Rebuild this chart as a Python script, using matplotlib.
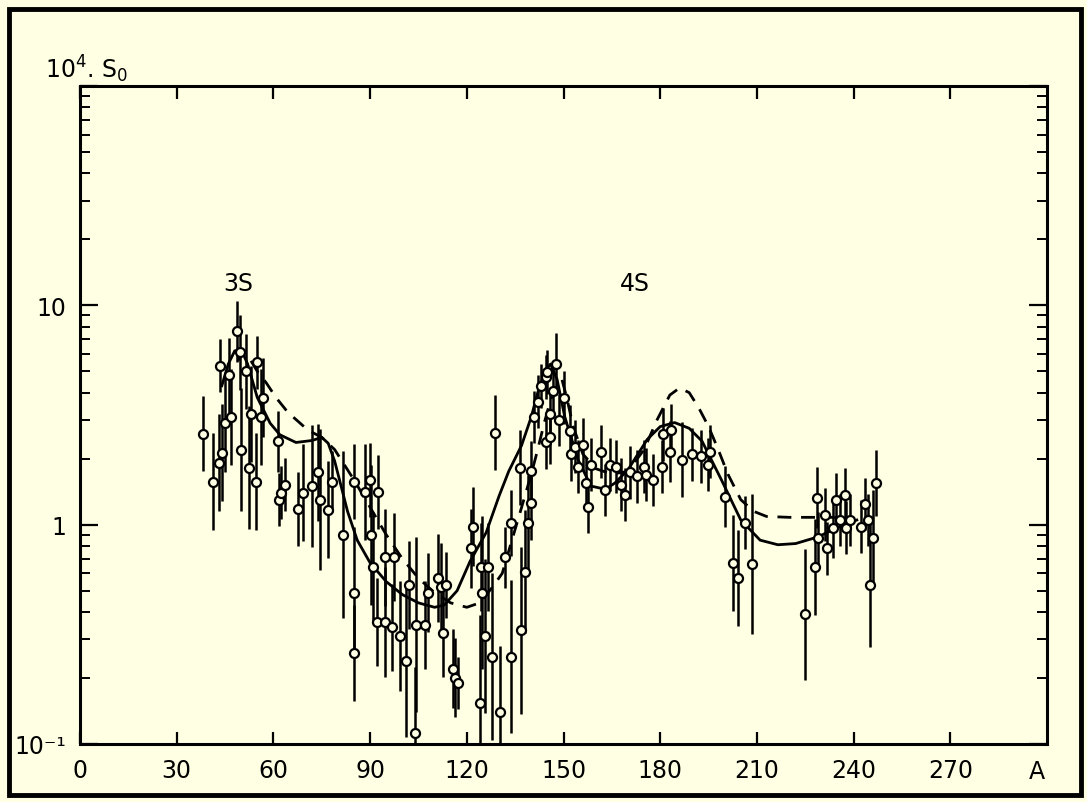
import numpy as np
import matplotlib
matplotlib.use("Agg")
import matplotlib.pyplot as plt
from matplotlib.patches import Rectangle
from matplotlib.ticker import FixedLocator, LogLocator, NullFormatter

# measured points: mass number A, 10^4 * S0, error bar half length (dex)
a_pts = [38.2, 41.3, 43.1, 43.4, 44.0, 45.0, 46.2, 46.9, 48.7, 49.6, 50.0, 51.5,
         52.4, 53.0, 54.6, 55.0, 56.2, 56.8, 61.4, 61.7, 62.3, 63.6, 67.6, 69.2,
         72.0, 73.8, 74.5, 76.9, 78.2, 81.6, 85.0, 85.0, 85.0, 88.4, 90.0, 90.3,
         90.9, 92.1, 92.4, 94.6, 94.6, 96.8, 97.4, 99.3, 101.0, 102.0, 104.0, 104.3,
         107.0, 108.0, 111.0, 112.0, 112.6, 113.5, 115.7, 116.3, 117.2, 121.3, 121.9, 124.0,
         124.4, 124.7, 125.6, 126.5, 127.8, 128.7, 130.3, 131.8, 133.7, 133.7, 136.5, 136.8,
         138.0, 139.0, 140.0, 140.0, 141.0, 142.0, 143.0, 144.5, 144.5, 145.0, 145.8, 145.8,
         146.7, 147.6, 148.6, 150.0, 152.0, 152.3, 153.5, 154.5, 156.0, 157.0, 157.6, 158.5,
         161.6, 163.0, 164.4, 166.3, 167.8, 169.0, 170.6, 172.8, 175.0, 175.6, 177.7, 180.5,
         181.0, 183.0, 183.3, 186.7, 190.0, 192.6, 194.8, 195.4, 200.0, 202.5, 204.0, 206.3,
         208.4, 225.0, 228.0, 228.6, 229.0, 231.0, 231.7, 233.6, 234.5, 235.7, 237.3, 237.6,
         239.0, 242.2, 243.5, 244.4, 245.0, 246.0, 247.0]
s_pts = [2.6, 1.57, 1.92, 5.3, 2.13, 2.9, 4.8, 3.1, 7.6, 6.1, 2.2, 5.0,
         1.82, 3.2, 1.57, 5.5, 3.1, 3.8, 2.4, 1.3, 1.4, 1.52, 1.18, 1.4,
         1.5, 1.73, 1.3, 1.17, 1.57, 0.9, 1.57, 0.49, 0.26, 1.41, 1.6, 0.9,
         0.64, 0.36, 1.41, 0.36, 0.71, 0.34, 0.71, 0.31, 0.24, 0.53, 0.112, 0.35,
         0.35, 0.49, 0.57, 0.52, 0.32, 0.53, 0.22, 0.20, 0.19, 0.78, 0.98, 0.154,
         0.64, 0.49, 0.31, 0.64, 0.25, 2.63, 0.14, 0.71, 1.02, 0.25, 1.82, 0.33,
         0.61, 1.02, 1.26, 1.75, 3.1, 3.64, 4.3, 4.7, 2.37, 4.95, 3.2, 2.5,
         4.05, 5.4, 3.0, 3.8, 2.66, 2.09, 2.27, 1.84, 2.32, 1.55, 1.21, 1.88,
         2.15, 1.44, 1.88, 1.84, 1.52, 1.37, 1.73, 1.66, 1.84, 1.69, 1.6, 1.84,
         2.58, 2.15, 2.7, 1.98, 2.09, 2.05, 1.88, 2.15, 1.34, 0.67, 0.57, 1.02,
         0.66, 0.39, 0.64, 1.33, 0.87, 1.11, 0.78, 0.97, 1.3, 1.05, 1.37, 0.97,
         1.05, 0.98, 1.24, 1.05, 0.53, 0.87, 1.55]
e_dex = [0.17, 0.22, 0.22, 0.12, 0.22, 0.22, 0.17, 0.22, 0.14, 0.17, 0.28, 0.17,
         0.28, 0.22, 0.22, 0.12, 0.22, 0.18, 0.14, 0.12, 0.12, 0.12, 0.17, 0.22,
         0.28, 0.22, 0.32, 0.22, 0.14, 0.38, 0.17, 0.3, 0.22, 0.22, 0.17, 0.32,
         0.25, 0.2, 0.17, 0.25, 0.22, 0.2, 0.2, 0.25, 0.35, 0.2, 0.3, 0.4,
         0.2, 0.18, 0.2, 0.2, 0.2, 0.15, 0.18, 0.18, 0.12, 0.18, 0.18, 0.4,
         0.2, 0.35, 0.35, 0.2, 0.38, 0.17, 0.3, 0.14, 0.15, 0.35, 0.17, 0.38,
         0.28, 0.22, 0.17, 0.14, 0.12, 0.12, 0.1, 0.1, 0.12, 0.1, 0.12, 0.12,
         0.12, 0.14, 0.12, 0.12, 0.12, 0.12, 0.12, 0.12, 0.12, 0.12, 0.12, 0.12,
         0.12, 0.12, 0.12, 0.12, 0.12, 0.12, 0.12, 0.12, 0.12, 0.12, 0.12, 0.12,
         0.12, 0.14, 0.12, 0.17, 0.12, 0.12, 0.12, 0.12, 0.14, 0.22, 0.22, 0.12,
         0.32, 0.3, 0.22, 0.14, 0.12, 0.12, 0.12, 0.14, 0.12, 0.12, 0.12, 0.12,
         0.12, 0.12, 0.12, 0.12, 0.28, 0.22, 0.15]

# solid curve
a_solid = [44, 46, 48, 50, 52, 55, 59, 62, 67, 72, 75, 77, 79, 81, 83, 86, 90, 95,
           100, 105, 110, 113, 117, 121, 126, 130, 133, 137, 140, 142, 144.5, 146,
           148, 150.4, 154.5, 158.5, 163, 166, 170, 176, 180, 184.5, 189, 193, 199,
           205, 211, 216.5, 222, 229, 235, 241]
s_solid = [4.3, 5.4, 6.2, 6.3, 5.4, 3.8, 2.9, 2.57, 2.37, 2.42, 2.5, 2.35, 1.95, 1.5,
           1.15, 0.85, 0.67, 0.55, 0.48, 0.44, 0.42, 0.43, 0.5, 0.68, 0.92, 1.35, 1.75,
           2.3, 3.1, 4.0, 5.1, 5.4, 4.6, 3.1, 1.98, 1.5, 1.45, 1.55, 1.78, 2.45, 2.8,
           2.92, 2.75, 2.4, 1.6, 1.05, 0.85, 0.81, 0.82, 0.88, 0.97, 1.05]

# dashed curve
a_dash = [49, 51, 53, 55, 57.7, 60.8, 64.5, 70.7, 75, 79, 85, 90, 95, 100, 105, 110,
          115, 120, 124, 128, 131, 134, 137, 140, 142, 144, 146, 148, 149.5, 151, 153,
          156, 160, 165, 170, 175, 179, 183, 186, 189, 192, 195, 198, 201, 205, 209,
          213, 220, 229, 236]
s_dash = [5.6, 6.2, 5.6, 5.0, 4.45, 3.8, 3.25, 2.7, 2.5, 2.2, 1.6, 1.2, 0.9, 0.7, 0.57,
          0.49, 0.44, 0.42, 0.44, 0.52, 0.6, 0.85, 1.2, 1.7, 2.2, 2.9, 3.7, 4.4, 4.6, 3.8,
          2.8, 2.1, 1.8, 1.7, 1.75, 2.2, 3.0, 3.9, 4.2, 4.0, 3.4, 2.8, 2.2, 1.7, 1.3, 1.15,
          1.09, 1.08, 1.08, 1.08]

x_ticks = [0, 30, 60, 90, 120, 150, 180, 210, 240, 270]
y_ticks = [0.1, 1, 10, 100]
y_labels = ["10\u207b\u00b9", "1", "10", ""]

bg = "#ffffe4"
W, H = 1087, 803
fig = plt.figure(figsize=(W / 100, H / 100), dpi=100, facecolor=bg)
ax = fig.add_axes([80 / W, 1 - 745 / H, 967 / W, 658 / H], facecolor=bg)

a = np.array(a_pts)
s = np.array(s_pts)
e = np.array(e_dex)
lo = s - s * 10 ** (-e)
hi = s * 10 ** e - s
ax.errorbar(a, s, yerr=[lo, hi], fmt="o", ms=6.5, mfc=bg, mec="black", mew=1.6,
            ecolor="black", elinewidth=1.8, capsize=0, zorder=3)

ax.plot(a_solid, s_solid, color="black", lw=2.0, zorder=2)
ax.plot(a_dash, s_dash, color="black", lw=2.0, dashes=(5, 3.5), zorder=2)

ax.set_yscale("log")
ax.set_xlim(0, 300)
ax.set_ylim(0.1, 100)

ax.xaxis.set_major_locator(FixedLocator(x_ticks))
ax.set_xticklabels([str(t) for t in x_ticks])
ax.yaxis.set_major_locator(FixedLocator(y_ticks))
ax.set_yticklabels(y_labels)
ax.yaxis.set_minor_locator(LogLocator(base=10, subs=np.arange(2, 10)))
ax.yaxis.set_minor_formatter(NullFormatter())

for sp in ax.spines.values():
    sp.set_linewidth(2.2)
ax.tick_params(which="major", direction="in", length=9, width=1.6,
               top=True, right=True, labelsize=17, pad=10)
ax.tick_params(axis="y", which="major", length=13)
ax.tick_params(which="minor", direction="in", length=7, width=1.4,
               left=True, right=True)

ax.text(49, 12.7, "3S", fontsize=17, ha="center", va="center")
ax.text(172, 12.7, "4S", fontsize=17, ha="center", va="center")

fig.text(45 / W, 1 - 78 / H, r"$10^4$. S$_0$", fontsize=17, va="baseline")
fig.text(1037 / W, 1 - 772 / H, "A", fontsize=17, ha="center", va="center")

fig.patches.append(Rectangle((9 / W, 1 - 796 / H), 1072 / W, 786 / H,
                             transform=fig.transFigure, fill=False,
                             edgecolor="black", lw=3.5))

fig.savefig("out.png", dpi=100, facecolor=bg)
